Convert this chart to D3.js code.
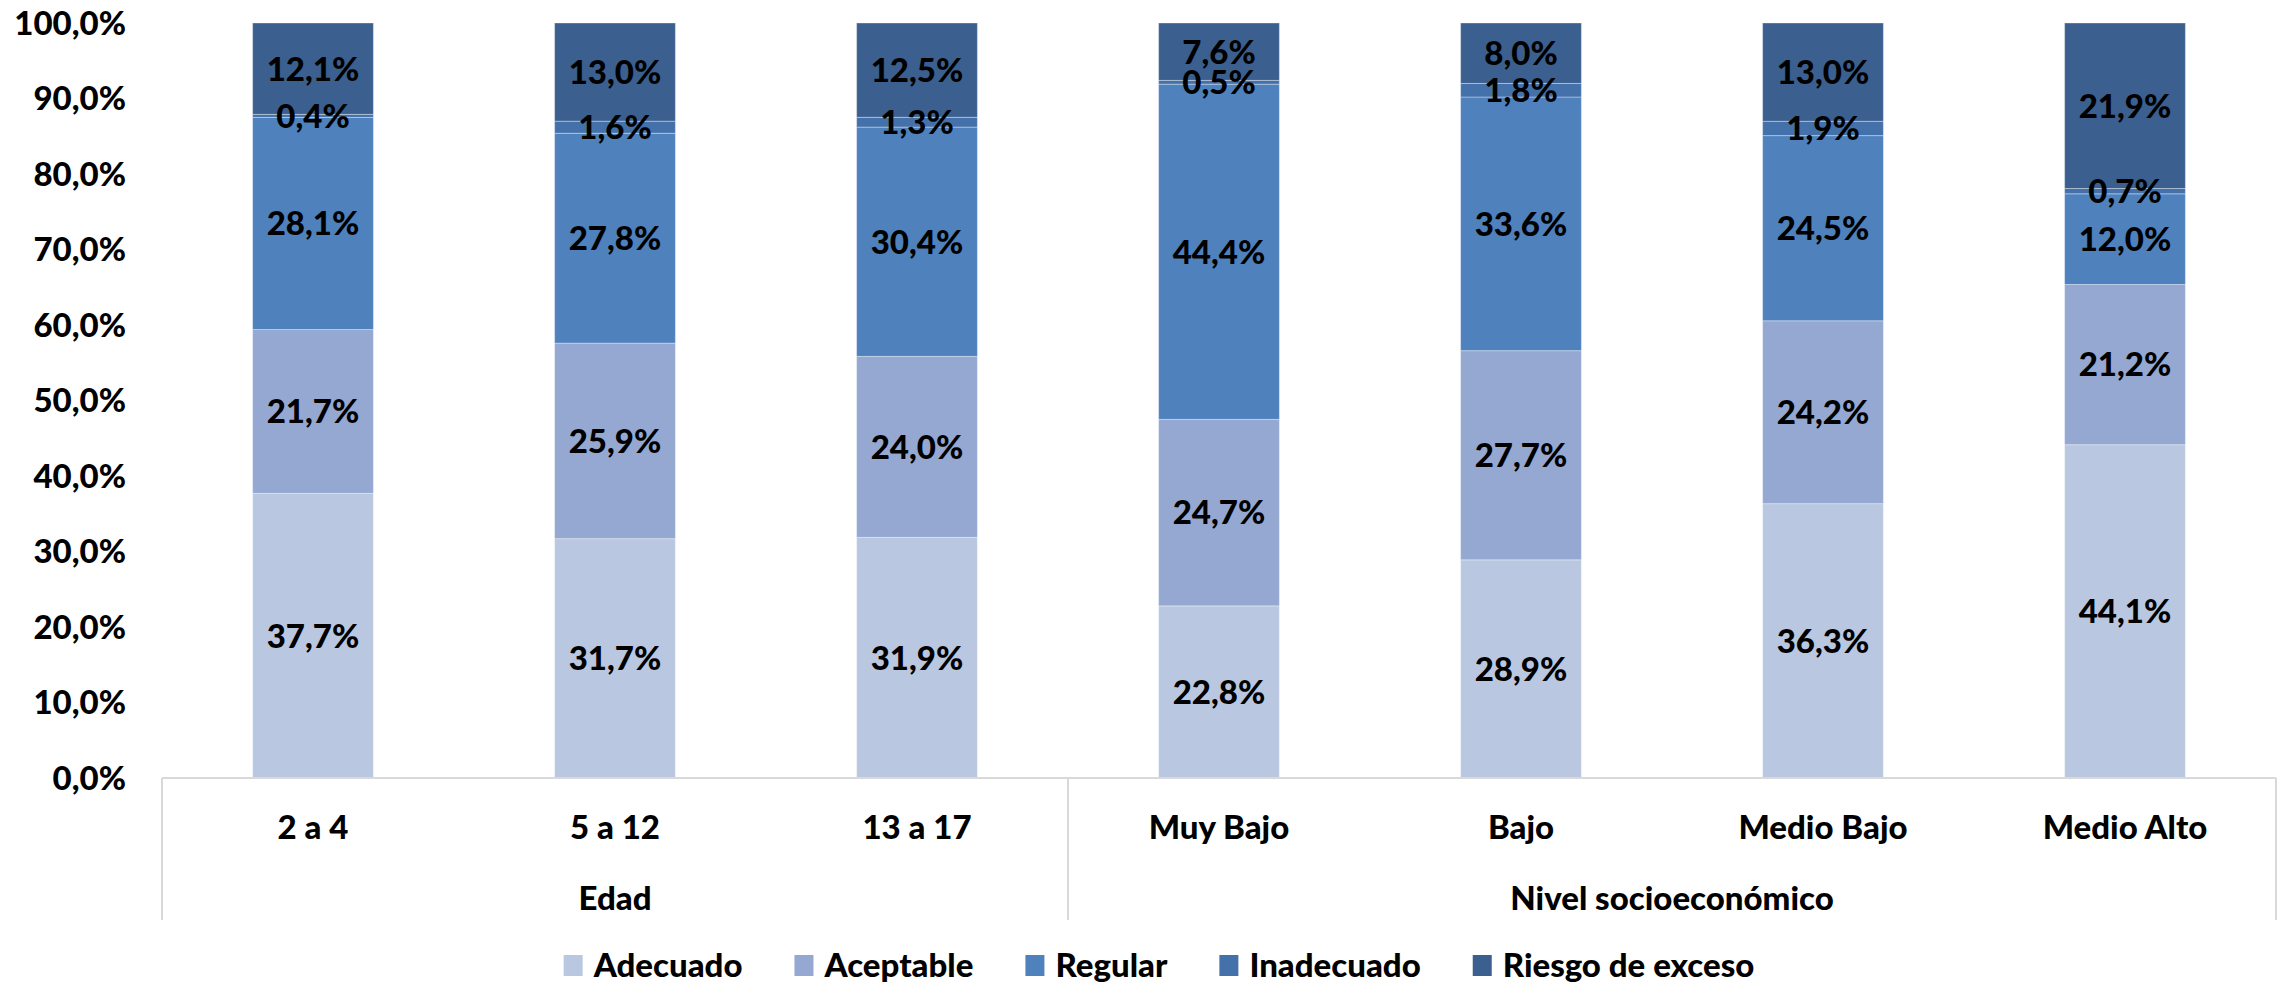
<!DOCTYPE html>
<html>
<head>
<meta charset="utf-8">
<script src="https://cdn.jsdelivr.net/npm/d3@7"></script>
<style>
  body { margin: 0; background: #fff; }
  text { font-family: Lato, "Open Sans", sans-serif; font-weight: 900; fill: #000; }
</style>
</head>
<body>
<div id="chart"></div>
<script>
// categories and their groups
var categories = ["2 a 4", "5 a 12", "13 a 17", "Muy Bajo", "Bajo", "Medio Bajo", "Medio Alto"];
var groups = [
    {name: "Edad", members: ["2 a 4", "5 a 12", "13 a 17"]},
    {name: "Nivel socioeconómico", members: ["Muy Bajo", "Bajo", "Medio Bajo", "Medio Alto"]}
];
var seriesNames = ["Adecuado", "Aceptable", "Regular", "Inadecuado", "Riesgo de exceso"];
var seriesColors = ["#BAC7E0", "#95A8D1", "#4F81BD", "#4471AA", "#3B5F8E"];

// values per series, in category order
var adecuado   = [37.7, 31.7, 31.9, 22.8, 28.9, 36.3, 44.1];
var aceptable  = [21.7, 25.9, 24.0, 24.7, 27.7, 24.2, 21.2];
var regular    = [28.1, 27.8, 30.4, 44.4, 33.6, 24.5, 12.0];
var inadecuado = [0.4, 1.6, 1.3, 0.5, 1.8, 1.9, 0.7];
var riesgo     = [12.1, 13.0, 12.5, 7.6, 8.0, 13.0, 21.9];

var yTicks = [0, 10, 20, 30, 40, 50, 60, 70, 80, 90, 100];

var W = 2285, H = 984;
var margin = {top: 23, right: 9, bottom: 206, left: 162};

var svg = d3.select("#chart").append("svg")
    .attr("width", W)
    .attr("height", H);

// build rows for stacking, 100% stacked like Excel
var seriesValues = [adecuado, aceptable, regular, inadecuado, riesgo];
var rows = categories.map(function(c, i){
    var row = {cat: c};
    var total = 0;
    seriesNames.forEach(function(s, j){ total += seriesValues[j][i]; });
    seriesNames.forEach(function(s, j){
        row[s] = seriesValues[j][i] / total * 100;
        row[s + "_label"] = seriesValues[j][i];
    });
    return row;
});

var stacked = d3.stack().keys(seriesNames)(rows);

var x = d3.scaleBand()
    .domain(categories)
    .range([margin.left, W - margin.right])
    .paddingInner(0.6)
    .paddingOuter(0.3);

var y = d3.scaleLinear()
    .domain([0, 100])
    .range([H - margin.bottom, margin.top]);

var fmt = function(v){ return d3.format(".1f")(v).replace(".", ",") + "%"; };

// y tick labels
svg.append("g").selectAll("text")
    .data(yTicks)
    .enter().append("text")
    .attr("x", margin.left - 36)
    .attr("y", function(d){ return y(d); })
    .attr("dy", "0.36em")
    .attr("text-anchor", "end")
    .style("font-size", "33px")
    .text(function(d){ return fmt(d); });

// bars
var layers = svg.append("g").selectAll("g")
    .data(stacked)
    .enter().append("g")
    .attr("fill", function(d, i){ return seriesColors[i]; });

layers.selectAll("rect")
    .data(function(d){ return d; })
    .enter().append("rect")
    .attr("x", function(d){ return x(d.data.cat); })
    .attr("width", x.bandwidth())
    .attr("y", function(d){ return y(d[1]); })
    .attr("height", function(d){ return y(d[0]) - y(d[1]); })
    .attr("stroke", "rgba(255,255,255,0.35)")
    .attr("stroke-width", 1);

// data labels, centered in each segment
stacked.forEach(function(layer){
    svg.append("g").selectAll("text")
        .data(layer)
        .enter().append("text")
        .attr("x", function(d){ return x(d.data.cat) + x.bandwidth() / 2; })
        .attr("y", function(d){ return y((d[0] + d[1]) / 2); })
        .attr("dy", "0.36em")
        .attr("text-anchor", "middle")
        .style("font-size", "33px")
        .text(function(d){ return fmt(d.data[layer.key + "_label"]); });
});

// category axis
var axisY = y(0);
var gap = (x.step() - x.bandwidth()) / 2;
svg.append("line")
    .attr("x1", margin.left).attr("x2", W - margin.right)
    .attr("y1", axisY).attr("y2", axisY)
    .attr("stroke", "#D9D9D9").attr("stroke-width", 2);

var bounds = [];
groups.forEach(function(g){
    var first = x(g.members[0]) - gap;
    var last = x(g.members[g.members.length - 1]) + x.bandwidth() + gap;
    bounds.push(first);
    g.x0 = first; g.x1 = last;
});
bounds.push(groups[groups.length - 1].x1);

svg.append("g").selectAll("line")
    .data(bounds)
    .enter().append("line")
    .attr("x1", function(d){ return d; }).attr("x2", function(d){ return d; })
    .attr("y1", axisY).attr("y2", axisY + 142)
    .attr("stroke", "#D9D9D9").attr("stroke-width", 2);

svg.append("g").selectAll("text")
    .data(categories)
    .enter().append("text")
    .attr("x", function(d){ return x(d) + x.bandwidth() / 2; })
    .attr("y", axisY + 49)
    .attr("dy", "0.36em")
    .attr("text-anchor", "middle")
    .style("font-size", "33px")
    .text(function(d){ return d; });

svg.append("g").selectAll("text")
    .data(groups)
    .enter().append("text")
    .attr("x", function(d){ return (d.x0 + d.x1) / 2; })
    .attr("y", axisY + 120)
    .attr("dy", "0.36em")
    .attr("text-anchor", "middle")
    .style("font-size", "33px")
    .text(function(d){ return d.name; });

// legend
var legend = svg.append("g");
var items = legend.selectAll("g")
    .data(seriesNames)
    .enter().append("g");
items.append("rect")
    .attr("width", 19).attr("height", 21)
    .attr("y", -10)
    .attr("fill", function(d, i){ return seriesColors[i]; });
items.append("text")
    .attr("x", 30)
    .attr("dy", "0.36em")
    .style("font-size", "33px")
    .text(function(d){ return d; });

var itemGap = 52;
var cursor = 0;
items.each(function(){
    var w = d3.select(this).select("text").node().getComputedTextLength() + 30;
    d3.select(this).attr("transform", "translate(" + cursor + ",0)");
    cursor += w + itemGap;
});
var legendWidth = cursor - itemGap;
legend.attr("transform", "translate(" + ((margin.left + W - margin.right) / 2 - legendWidth / 2 - 60) + "," + 965 + ")");
</script>
</body>
</html>
